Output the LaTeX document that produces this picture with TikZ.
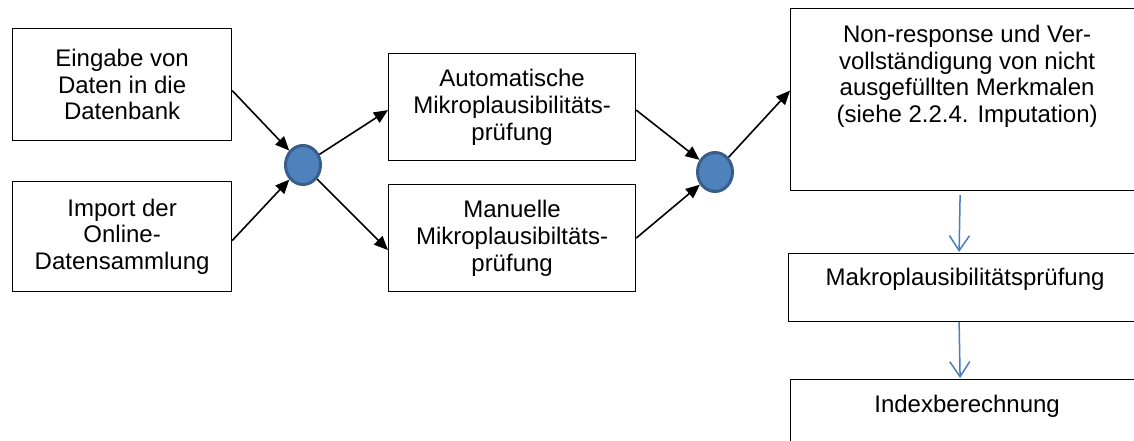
\documentclass[tikz,border=0pt]{standalone}
\usepackage{fontspec}
\setmainfont{Liberation Sans}
\usetikzlibrary{arrows.meta,shapes.geometric}
\definecolor{hubfill}{HTML}{4F81BD}
\definecolor{hubline}{HTML}{385D8A}
\definecolor{flowblue}{HTML}{4A7EBB}

\begin{document}
\begin{tikzpicture}[x=1pt,y=-1pt,
  box/.style={draw, line width=1.2pt, inner sep=0pt, anchor=north west,
    font=\fontsize{24}{26.7}\selectfont, align=center},
  caption/.style={inner sep=0pt, anchor=north,
    font=\fontsize{24}{26.7}\selectfont, align=center},
  hub/.style={ellipse, draw=hubline, fill=hubfill, line width=3pt,
    minimum width=35pt, minimum height=39pt, inner sep=0pt},
  link/.style={line width=1.6pt, -{Triangle[length=14pt,width=12pt]}},
  flow/.style={flowblue, line width=1.5pt, -{Straight Barb[length=15pt,width=20pt,line width=1.5pt]}}
]
\path[use as bounding box, clip] (0,0) rectangle (1134,441);

% input boxes
\node[box, minimum width=219pt, minimum height=112pt] (A) at (12,28)
  {Eingabe von\\Daten in die\\Datenbank};
\node[box, minimum width=219pt, minimum height=110pt] (B) at (12,181)
  {Import der\\Online-\\Datensammlung};

% checking boxes
\node[box, minimum width=247pt, minimum height=107pt] (C) at (388,53)
  {Automatische\\Mikroplausibilitäts-\\prüfung};
\node[box, minimum width=247pt, minimum height=107pt] (D) at (388,184)
  {Manuelle\\Mikroplausibiltäts-\\prüfung};

% junctions
\node[hub] (c1) at (303,165) {};
\node[hub] (c2) at (715,172) {};

% right column (boxes run past the page edge)
\node[box, minimum width=353pt, minimum height=182pt] (E) at (790,8) {};
\node[caption] at ([yshift=-17pt]E.north)
  {Non-response und Ver-\\vollständigung von nicht\\ausgefüllten Merkmalen\\(siehe 2.2.4. Imputation)};
\node[box, minimum width=353pt, minimum height=68pt] (M) at (788,253) {};
\node[caption] at ([yshift=-15pt]M.north) {Makroplausibilitätsprüfung};
\node[box, minimum width=353pt, minimum height=110pt] (I) at (790,379) {};
\node[caption] at ([yshift=-16pt]I.north) {Indexberechnung};

% connectors
\draw[link] ([yshift=-6pt]A.east) -- (c1);
\draw[link] ([yshift=-4pt]B.east) -- (c1);
\draw[link] (c1) -- ([yshift=-3pt]C.west);
\draw[link] (c1) -- ([yshift=-12pt]D.west);
\draw[link] ([yshift=-3pt]C.east) -- (c2);
\draw[link] (D.east) -- (c2);
\draw[link] (c2) -- ([yshift=9pt]E.west);

\draw[flow] ([xshift=-7pt,yshift=-4pt]E.south) -- ([xshift=-6pt,yshift=1pt]M.north);
\draw[flow] ([xshift=-6pt]M.south) -- ([xshift=-7pt,yshift=1pt]I.north);
\end{tikzpicture}
\end{document}
